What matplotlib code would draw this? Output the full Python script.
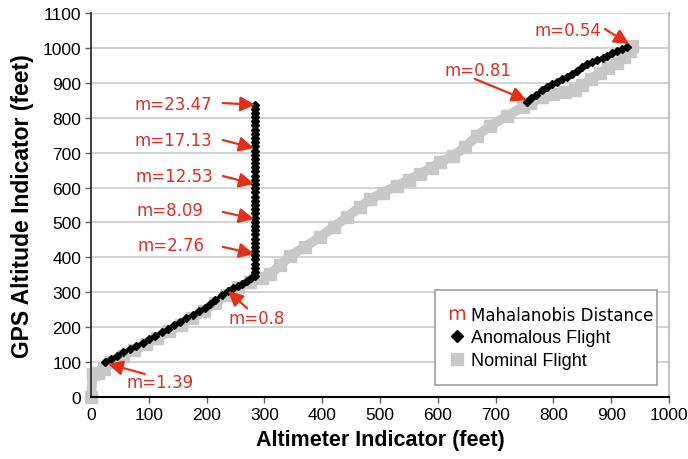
import matplotlib
matplotlib.use("Agg")
import matplotlib.pyplot as plt
from matplotlib.lines import Line2D

# nominal flight track (gray squares)
nominal_x = [0, 3, 12, 22, 35, 55, 75, 95, 115, 135, 155, 175, 195, 215, 235,
             255, 275, 295, 310, 327, 344, 370, 396, 420, 443, 465, 483, 505,
             529, 550, 570, 590, 604, 626, 647, 668, 690, 720, 747, 760, 780,
             800, 820, 837, 850, 865, 880, 895, 910, 922, 932, 936]
nominal_y = [0, 66, 70, 80, 100, 117, 134, 151, 169, 188, 207, 226, 246, 268, 293,
             315, 330, 342, 352, 378, 404, 430, 458, 487, 516, 543, 567, 585,
             605, 622, 640, 657, 673, 690, 716, 748, 776, 805, 831, 842, 858,
             868, 875, 878, 893, 912, 928, 942, 958, 975, 990, 1005]

# anomalous flight track (black diamonds), split where the data has a gap
anom1_x = [24, 34, 45, 56, 67, 78, 90, 100, 111, 122, 133, 143, 154, 165, 176,
           186, 197, 206, 215, 226, 237, 246, 255, 262, 270, 277, 284,
           284, 284, 284, 283, 283, 283, 283, 283, 283, 283, 283, 283, 283,
           283, 283, 283, 283, 283, 283, 283, 283, 283, 283, 283, 283, 283,
           283, 283, 283, 283, 283, 283, 283, 283, 283, 283, 283, 283, 283,
           283, 283]
anom1_y = [100, 109, 118, 128, 137, 146, 156, 165, 175, 185, 195, 205, 215, 225, 235,
           245, 255, 266, 277, 291, 304, 311, 318, 325, 332, 340, 347,
           358, 370, 382, 394, 406, 418, 430, 442, 454, 466, 478, 490, 502,
           514, 526, 538, 550, 562, 574, 586, 598, 610, 622, 634, 646, 658,
           670, 682, 694, 706, 718, 730, 742, 754, 766, 778, 790, 802, 814,
           826, 835]
anom2_x = [754, 762, 770, 780, 789, 798, 806, 815, 824, 832, 841, 850, 858, 867,
           876, 885, 893, 902, 910, 919, 927]
anom2_y = [845, 856, 866, 878, 888, 896, 903, 910, 917, 926, 935, 945, 954, 960,
           966, 972, 977, 984, 990, 997, 1003]

# Mahalanobis distance callouts: label, text position, arrow tail, arrow tip
m_labels = ["m=23.47", "m=17.13", "m=12.53", "m=8.09", "m=2.76",
            "m=0.8", "m=1.39", "m=0.81", "m=0.54"]
m_text_xy = [(143, 838), (143, 735), (145, 633), (137, 535), (138, 435),
             (287, 226), (119, 44), (670, 936), (825, 1051)]
m_tail_xy = [(228, 842), (228, 736), (228, 633), (228, 530), (228, 430),
             (270, 254), (93, 66), (664, 911), (889, 1054)]
m_tip_xy = [(284, 837), (282, 713), (282, 610), (282, 510), (282, 410),
            (237, 304), (29, 95), (754, 850), (931, 1011)]

red_text = "#d8302a"
red_arrow = "#e2301a"
gray = "#c8c8c8"

plt.rcParams["font.family"] = ["Liberation Sans", "DejaVu Sans"]

fig = plt.figure(figsize=(6.88, 4.60), dpi=100)
ax = fig.add_axes([0.1323, 0.1348, 0.8401, 0.8348])

ax.plot(nominal_x, nominal_y, color=gray, lw=7, marker="s", ms=8,
        mec=gray, mfc=gray, clip_on=False, zorder=2, solid_joinstyle="miter")
for xs, ys in [(anom1_x, anom1_y), (anom2_x, anom2_y)]:
    ax.plot(xs, ys, color="black", lw=2.5, marker="D", ms=4.5, mec="black",
            mfc="black", zorder=3)

for lab, txy, tail, tip in zip(m_labels, m_text_xy, m_tail_xy, m_tip_xy):
    ax.text(txy[0], txy[1], lab, color=red_text, fontsize=12,
            family="DejaVu Sans", ha="center", va="center", zorder=5)
    ax.annotate("", xy=tip, xytext=tail,
                arrowprops=dict(arrowstyle="-|>,head_length=0.9,head_width=0.45",
                                color=red_arrow, lw=1.6, shrinkA=0, shrinkB=0),
                zorder=5)

ax.set_xlim(0, 1000)
ax.set_ylim(0, 1100)
ax.set_xticks(range(0, 1001, 100))
ax.set_yticks(range(0, 1101, 100))
ax.tick_params(labelsize=12.5, length=4, width=1, color="#606060", pad=3)
ax.yaxis.grid(True, color="#d4d4d4", lw=1.5)
ax.set_axisbelow(True)

ax.spines["top"].set_visible(False)
ax.spines["right"].set_color("#c4c4c4")
ax.spines["right"].set_linewidth(1.5)
ax.spines["left"].set_color("#303030")
ax.spines["left"].set_linewidth(1.3)
ax.spines["bottom"].set_color("black")
ax.spines["bottom"].set_linewidth(1.5)

ax.set_xlabel("Altimeter Indicator (feet)", fontsize=15.5, fontweight="bold",
              labelpad=5)
ax.set_ylabel("GPS Altitude Indicator (feet)", fontsize=16.5, fontweight="bold",
              labelpad=6)

handles = [
    Line2D([], [], ls="none", marker=r"$\mathrm{m}$", color=red_text, ms=11,
           mew=0),
    Line2D([], [], ls="none", marker="D", color="black", ms=6),
    Line2D([], [], ls="none", marker="s", color=gray, ms=9),
]
labels = ["Mahalanobis Distance", "Anomalous Flight", "Nominal Flight"]
leg = ax.legend(handles, labels, loc="lower left",
                bbox_to_anchor=(0.595, 0.031, 0.384, 0.26), mode="expand",
                fancybox=False, framealpha=1, edgecolor="#a0a0a0",
                fontsize=13, handlelength=0.7, handletextpad=0.4,
                labelspacing=0.3, borderpad=0.9, borderaxespad=0)
leg.get_frame().set_linewidth(1.2)
leg.get_texts()[0].set_family("DejaVu Sans")
leg.get_texts()[0].set_fontsize(12)

fig.savefig("out.png", dpi=100)
